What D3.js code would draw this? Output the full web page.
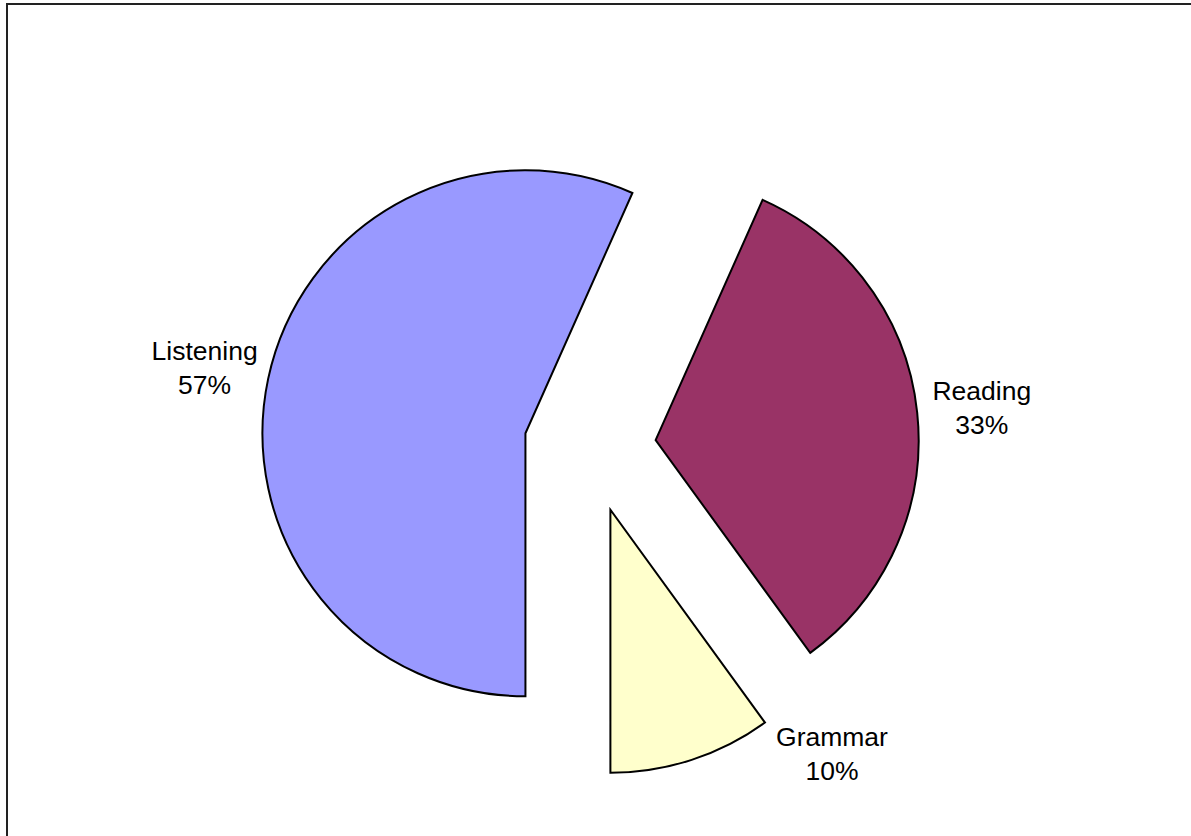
<!DOCTYPE html>
<html>
<head>
<meta charset="utf-8">
<script src="https://cdn.jsdelivr.net/npm/d3@7"></script>
<style>
  html, body { margin: 0; padding: 0; background: #fff; }
  svg { display: block; }
</style>
</head>
<body>
<svg id="chart" width="1191" height="836"></svg>
<script>
// ---- data ----
const categories = ["Reading", "Grammar", "Listening"];
const values = [10, 3, 17];
const colors = ["#993366", "#FFFFCC", "#9999FF"];

// ---- layout ----
const W = 1191, H = 836;
const cx = 590, cy = 447, R = 263;
const explode = 66;
const labelDist = 328;
const labelAngleShift = { Grammar: -24.5 }; // degrees, best-fit nudge
const fontSize = 26.5, lineGap = 34;

const svg = d3.select("#chart");

// frame
svg.append("rect")
  .attr("x", 7).attr("y", 4)
  .attr("width", W + 20).attr("height", H + 20)
  .attr("fill", "none").attr("stroke", "#222").attr("stroke-width", 2);

const start = 24 * Math.PI / 180;
const pie = d3.pie().sort(null).value(d => d.v)
  .startAngle(start).endAngle(start + 2 * Math.PI);
const data = categories.map((c, i) => ({ c, v: values[i], col: colors[i] }));
const arcs = pie(data);
const total = d3.sum(values);
const arc = d3.arc().innerRadius(0).outerRadius(R);

const g = svg.append("g").attr("transform", `translate(${cx},${cy})`);

arcs.forEach(a => {
  const mid = (a.startAngle + a.endAngle) / 2;
  const ox = Math.sin(mid) * explode, oy = -Math.cos(mid) * explode;
  const sg = g.append("g").attr("transform", `translate(${ox},${oy})`);
  sg.append("path")
    .attr("d", arc(a))
    .attr("fill", a.data.col)
    .attr("stroke", "#000")
    .attr("stroke-width", 2)
    .attr("stroke-linejoin", "miter");

  const la = mid + (labelAngleShift[a.data.c] || 0) * Math.PI / 180;
  const lx = Math.sin(la) * labelDist, ly = -Math.cos(la) * labelDist + 2;
  const t = sg.append("text")
    .attr("text-anchor", "middle")
    .attr("font-family", "Arial, 'Liberation Sans', sans-serif")
    .attr("font-size", fontSize)
    .attr("fill", "#000");
  t.append("tspan").attr("x", lx).attr("y", ly - lineGap / 2 + fontSize * 0.36)
    .text(a.data.c);
  t.append("tspan").attr("x", lx).attr("y", ly + lineGap / 2 + fontSize * 0.36)
    .text(Math.round(a.data.v / total * 100) + "%");
});
</script>
</body>
</html>
